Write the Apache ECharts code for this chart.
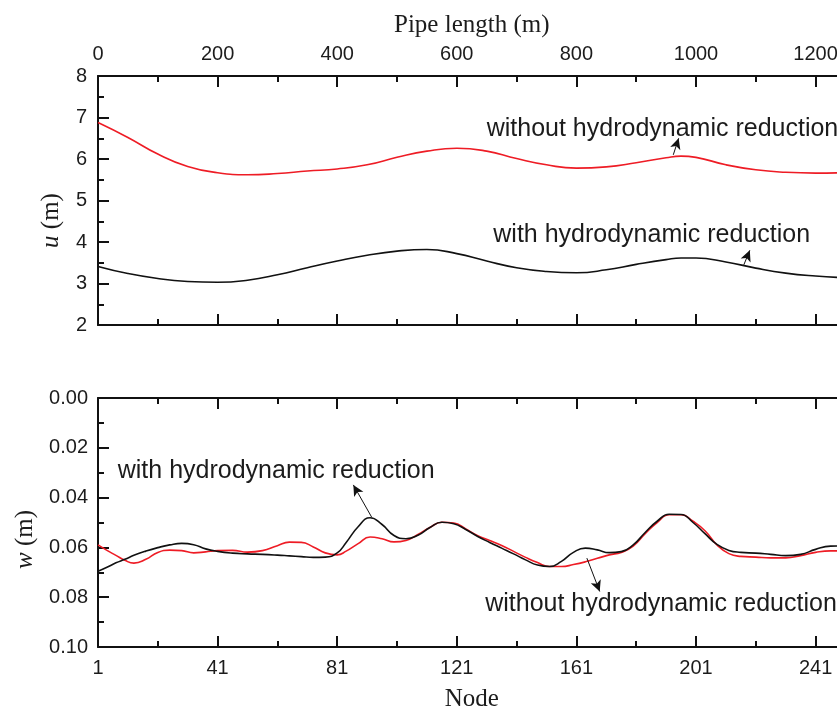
<!DOCTYPE html>
<html>
<head>
<meta charset="utf-8">
<style>
  html, body { margin: 0; padding: 0; background: #fff; }
  #chart { width: 837px; height: 708px; }
</style>
<script src="https://cdn.jsdelivr.net/npm/echarts@6/dist/echarts.min.js"></script>
</head>
<body>
<div id="chart"></div>
<script>
// Upper panel: lateral displacement u along the pipe (m)
const pipeLength = [0, 50, 100, 150, 200, 250, 300, 350, 400, 450, 500, 550, 600,
  650, 700, 750, 800, 850, 900, 950, 975, 1000, 1050, 1100, 1150, 1200, 1250];
const uWithout = [6.88, 6.52, 6.12, 5.82, 5.67, 5.62, 5.65, 5.71, 5.76, 5.86, 6.04, 6.19, 6.26,
  6.19, 6.01, 5.86, 5.78, 5.81, 5.91, 6.03, 6.07, 6.04, 5.86, 5.74, 5.68, 5.66, 5.67];
const uWith = [3.41, 3.24, 3.12, 3.05, 3.03, 3.08, 3.21, 3.38, 3.54, 3.68, 3.78, 3.82, 3.72,
  3.54, 3.38, 3.29, 3.26, 3.33, 3.46, 3.575, 3.615, 3.615, 3.52, 3.37, 3.25, 3.18, 3.14];

// Lower panel: vertical displacement w at each node (m)
const nodes = [1, 4, 7, 10, 13, 17, 21, 25, 29, 33, 37, 41, 46, 51, 56, 61, 65, 69, 73, 77,
  81, 84, 88, 92, 96, 100, 104, 108, 112, 116, 120, 124, 128, 132, 136, 140, 144, 148, 152,
  156, 160, 164, 168, 172, 176, 180, 184, 188, 192, 196, 200, 204, 208, 212, 216, 221, 226,
  231, 236, 241, 246, 251];
const wWith = [0.0696, 0.0680, 0.0662, 0.0648, 0.0632, 0.0615, 0.0601, 0.0590, 0.0584, 0.0589,
  0.0606, 0.0616, 0.0623, 0.0626, 0.0628, 0.0631, 0.0634, 0.0637, 0.0640, 0.0639,
  0.0622, 0.0580, 0.0517, 0.0481, 0.0508, 0.0552, 0.0565, 0.0551, 0.0520, 0.0499,
  0.0505, 0.0528, 0.0556, 0.0580, 0.0603, 0.0626, 0.0650, 0.0671, 0.0677,
  0.0656, 0.0620, 0.0603, 0.0610, 0.0621, 0.0617, 0.0590, 0.0540, 0.0495, 0.0467,
  0.0468, 0.0500, 0.0545, 0.0588, 0.0612, 0.0620, 0.0623, 0.0628,
  0.0633, 0.0628, 0.0608, 0.0595, 0.0594];
const wWithout = [0.0590, 0.0612, 0.0632, 0.0652, 0.0663, 0.0648, 0.0620, 0.0611, 0.0613, 0.0622,
  0.0618, 0.0613, 0.0612, 0.0619, 0.0613, 0.0593, 0.0579, 0.0580, 0.0598, 0.0622,
  0.0630, 0.0615, 0.0585, 0.0558, 0.0565, 0.0578, 0.0572, 0.0548, 0.0520, 0.0499,
  0.0502, 0.0526, 0.0553, 0.0572, 0.0592, 0.0616, 0.0640, 0.0661, 0.0677,
  0.0677, 0.0669, 0.0658, 0.0644, 0.0630, 0.0620, 0.0595, 0.0545, 0.0500, 0.0469,
  0.0469, 0.0495, 0.0533, 0.0590, 0.0625, 0.0636, 0.0639, 0.0642,
  0.0642, 0.0633, 0.0620, 0.0614, 0.0614];

// Callout texts: label anchor [x, y] and arrow [from curve, to label]
const labelWithout = 'without hydrodynamic reduction';
const labelWith = 'with hydrodynamic reduction';
const uWithoutNote = [650, 6.72];
const uWithoutArrow = [[962, 6.10], [971, 6.50]];
const uWithNote = [661, 4.16];
const uWithArrow = [[1080, 3.45], [1090, 3.80]];
const wWithNote = [7.6, 0.0292];
const wWithArrow = [[92.5, 0.0478], [86.4, 0.0349]];
const wWithoutNote = [130.5, 0.0827];
const wWithoutArrow = [[164.5, 0.0643], [168.8, 0.0777]];

// nodes are spaced 5 m apart along the pipe
const NODE_SPACING = 5;
const nodeToLength = n => (n - 1) * NODE_SPACING;
const lengthToNode = l => Math.round(l / NODE_SPACING + 1);

const INK = '#111';
const TEXT = '#1c1c1c';
const RED = '#ee1c25';
const SANS = 'Liberation Sans';
const SERIF = 'Liberation Serif';

function frameAxis(extra) {
  return Object.assign({
    type: 'value',
    axisLine: { show: true, onZero: false, lineStyle: { color: INK, width: 2 } },
    axisTick: { show: true, inside: true, length: 11, lineStyle: { color: INK, width: 2 } },
    minorTick: { show: true, splitNumber: 2, length: 6, lineStyle: { color: INK, width: 2 } },
    splitLine: { show: false },
    minorSplitLine: { show: false },
    axisLabel: { show: true, fontFamily: SANS, fontSize: 20, color: TEXT, margin: 11 },
  }, extra);
}

function note(pos, text) {
  return {
    coord: pos,
    symbolSize: 0,
    label: {
      show: true, position: 'right', distance: 0, formatter: text,
      fontFamily: SANS, fontSize: 25, color: TEXT
    }
  };
}

function arrow(seg) {
  return [{ coord: seg[0] }, { coord: seg[1] }];
}

const arrowLine = {
  silent: true,
  symbol: ['none', 'arrow'],
  symbolSize: [8, 11],
  label: { show: false },
  lineStyle: { color: INK, width: 1, type: 'solid' },
  emphasis: { disabled: true },
};

const lengthRange = { min: 0, max: 1250, interval: 200 };
const panelLeft = 98;
const panelWidth = 747.5;

const chart = echarts.init(document.getElementById('chart'), null, { renderer: 'canvas' });

chart.setOption({
  animation: false,
  backgroundColor: '#fff',
  grid: [
    { left: panelLeft, top: 76, width: panelWidth, height: 249, outerBoundsMode: 'none', containLabel: false },
    { left: panelLeft, top: 398, width: panelWidth, height: 249, outerBoundsMode: 'none', containLabel: false }
  ],
  xAxis: [
    frameAxis(Object.assign({
      gridIndex: 0, position: 'top',
      name: 'Pipe length (m)', nameLocation: 'middle', nameGap: 38,
      nameTextStyle: { fontFamily: SERIF, fontSize: 25, color: TEXT },
      axisLabel: {
        show: true, fontFamily: SANS, fontSize: 20, color: TEXT, margin: 12, showMaxLabel: false,
        formatter: v => String(v)
      }
    }, lengthRange)),
    frameAxis(Object.assign({
      gridIndex: 0, position: 'bottom', axisLabel: { show: false }
    }, lengthRange)),
    frameAxis(Object.assign({
      gridIndex: 1, position: 'bottom',
      name: 'Node', nameLocation: 'middle', nameGap: 40,
      nameTextStyle: { fontFamily: SERIF, fontSize: 25, color: TEXT },
      axisLabel: {
        show: true, fontFamily: SANS, fontSize: 20, color: TEXT, margin: 11, showMaxLabel: false,
        formatter: v => String(lengthToNode(v))
      }
    }, lengthRange)),
    frameAxis(Object.assign({
      gridIndex: 1, position: 'top', axisLabel: { show: false }
    }, lengthRange))
  ],
  yAxis: [
    frameAxis({
      gridIndex: 0, position: 'left', min: 2, max: 8, interval: 1,
      name: '{i|u} (m)', nameLocation: 'middle', nameGap: 34,
      nameTextStyle: {
        fontFamily: SERIF, fontSize: 25, color: TEXT, padding: [0, 40, 0, 0],
        rich: { i: { fontFamily: SERIF, fontSize: 25, fontStyle: 'italic', color: TEXT } }
      },
      axisLabel: { show: true, fontFamily: SANS, fontSize: 20, color: TEXT, margin: 11 }
    }),
    frameAxis({
      gridIndex: 1, position: 'left', min: 0, max: 0.1, interval: 0.02, inverse: true,
      name: '{i|w} (m)', nameLocation: 'middle', nameGap: 59,
      nameTextStyle: {
        fontFamily: SERIF, fontSize: 25, color: TEXT, padding: [0, 34, 0, 0],
        rich: { i: { fontFamily: SERIF, fontSize: 25, fontStyle: 'italic', color: TEXT } }
      },
      axisLabel: {
        show: true, fontFamily: SANS, fontSize: 20, color: TEXT, margin: 10,
        formatter: v => v.toFixed(2)
      }
    })
  ],
  series: [
    {
      name: labelWithout, type: 'line', xAxisIndex: 0, yAxisIndex: 0,
      data: pipeLength.map((l, i) => [l, uWithout[i]]),
      smooth: 0.5, showSymbol: false, symbol: 'none',
      lineStyle: { color: RED, width: 1.6 },
      markPoint: { silent: true, data: [note(uWithoutNote, labelWithout)] },
      markLine: Object.assign({ data: [arrow(uWithoutArrow)] }, arrowLine)
    },
    {
      name: labelWith, type: 'line', xAxisIndex: 0, yAxisIndex: 0,
      data: pipeLength.map((l, i) => [l, uWith[i]]),
      smooth: 0.5, showSymbol: false, symbol: 'none',
      lineStyle: { color: INK, width: 1.6 },
      markPoint: { silent: true, data: [note(uWithNote, labelWith)] },
      markLine: Object.assign({ data: [arrow(uWithArrow)] }, arrowLine)
    },
    {
      name: labelWithout, type: 'line', xAxisIndex: 2, yAxisIndex: 1,
      data: nodes.map((n, i) => [nodeToLength(n), wWithout[i]]),
      smooth: 0.5, showSymbol: false, symbol: 'none',
      lineStyle: { color: RED, width: 1.6 },
      markPoint: {
        silent: true,
        data: [note([nodeToLength(wWithoutNote[0]), wWithoutNote[1]], labelWithout)]
      },
      markLine: Object.assign({
        data: [arrow(wWithoutArrow.map(p => [nodeToLength(p[0]), p[1]]))]
      }, arrowLine)
    },
    {
      name: labelWith, type: 'line', xAxisIndex: 2, yAxisIndex: 1,
      data: nodes.map((n, i) => [nodeToLength(n), wWith[i]]),
      smooth: 0.5, showSymbol: false, symbol: 'none',
      lineStyle: { color: INK, width: 1.6 },
      markPoint: {
        silent: true,
        data: [note([nodeToLength(wWithNote[0]), wWithNote[1]], labelWith)]
      },
      markLine: Object.assign({
        data: [arrow(wWithArrow.map(p => [nodeToLength(p[0]), p[1]]))]
      }, arrowLine)
    }
  ]
});
</script>
</body>
</html>
